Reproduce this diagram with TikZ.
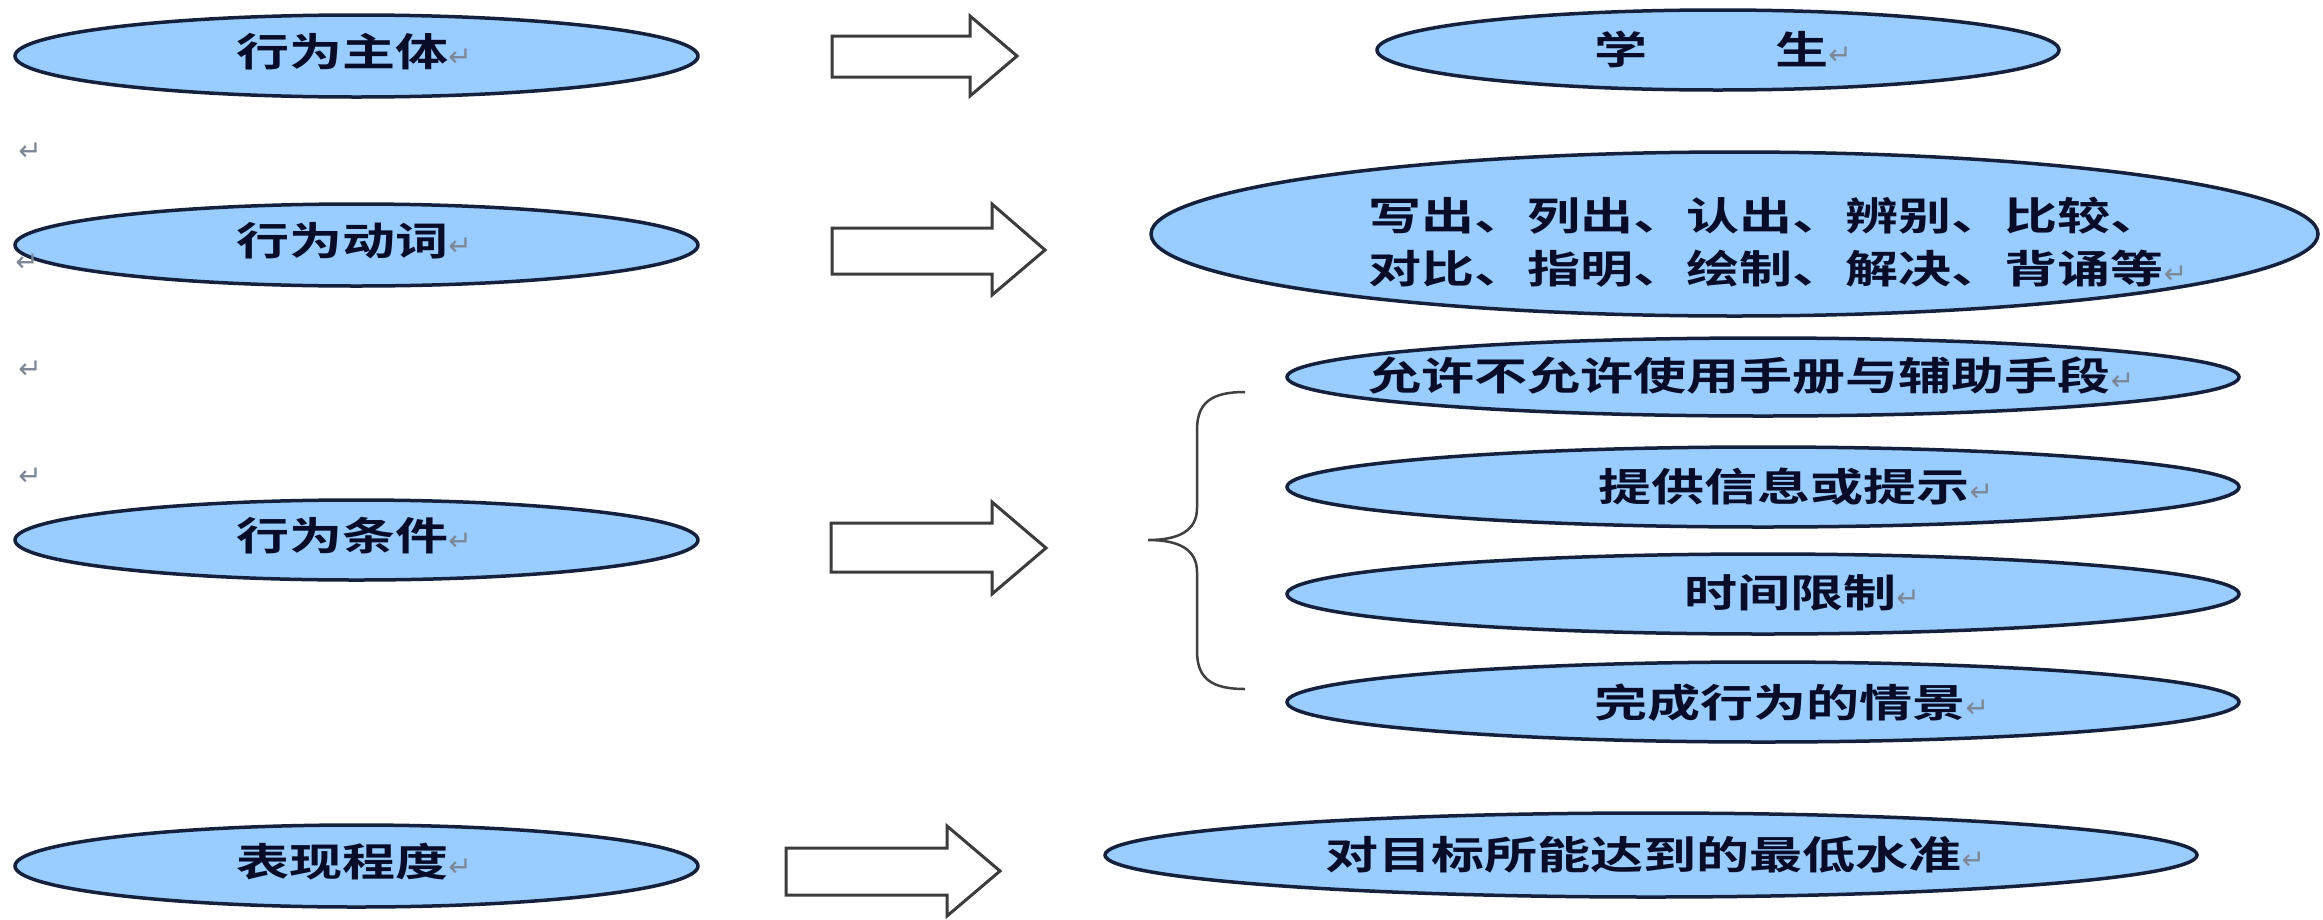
\documentclass[tikz,border=0pt]{standalone}
\usepackage{fontspec}
\usetikzlibrary{shapes.geometric}
\newfontfamily\cjk{Noto Sans CJK SC Bold}[FakeStretch=1.36]
\newfontfamily\markfont{DejaVu Sans}
\definecolor{ellfill}{RGB}{153,204,255}
\definecolor{ellline}{RGB}{20,32,60}
\definecolor{txtc}{RGB}{8,12,40}
\definecolor{markc}{RGB}{125,135,150}
\definecolor{arrline}{RGB}{60,60,60}
\newcommand\retmark{{\markfont\color{markc}\fontsize{28}{28}\selectfont ↵}}
\begin{document}
\begin{tikzpicture}[x=1pt,y=-1pt,
  oval/.style={ellipse, draw=ellline, line width=3.5pt, fill=ellfill, inner sep=0pt},
  cjktext/.style={anchor=west, inner sep=0pt, text=txtc, font=\cjk\fontsize{39}{53}\selectfont},
  blockarrow/.style={draw=arrline, line width=3pt, fill=white, line join=miter},
  bracestyle/.style={draw=black!75, line width=2.5pt},
  loosemark/.style={inner sep=0pt, font=\markfont\fontsize{28}{28}\selectfont, text=markc}]
\useasboundingbox (0,0) rectangle (2323,919);
\fill[white] (0,0) rectangle (2323,919);

% left column
\node[oval, minimum width=683pt, minimum height=82pt] (e1) at (356.5,56) {};
\node[oval, minimum width=683pt, minimum height=82pt] (e2) at (356.5,245) {};
\node[oval, minimum width=683pt, minimum height=80pt] (e3) at (356.5,540) {};
\node[oval, minimum width=683pt, minimum height=82pt] (e4) at (356.5,866) {};
\node[cjktext] (t1) at (236,52) {行为主体\retmark};
\node[cjktext] (t2) at (236,241) {行为动词\retmark};
\node[cjktext] (t3) at (236,536) {行为条件\retmark};
\node[cjktext] (t4) at (236,862) {表现程度\retmark};

% loose paragraph marks
\node[loosemark] (m1) at (30,152) {↵};
\node[loosemark] (m2) at (27,263) {↵};
\node[loosemark] (m3) at (30,370) {↵};
\node[loosemark] (m4) at (30,477) {↵};

% block arrows
\draw[blockarrow] (832,36) -- (970,36) -- (970,16) -- (1017,56) -- (970,96) -- (970,77) -- (832,77) -- cycle;
\draw[blockarrow] (832,228) -- (992,228) -- (992,204) -- (1045,250) -- (992,295) -- (992,274) -- (832,274) -- cycle;
\draw[blockarrow] (831,523) -- (992,523) -- (992,502) -- (1046,548) -- (992,594) -- (992,572) -- (831,572) -- cycle;
\draw[blockarrow] (786,848) -- (947,848) -- (947,826) -- (1000,871) -- (947,916) -- (947,895) -- (786,895) -- cycle;

% right column
\node[oval, minimum width=682pt, minimum height=80pt] (r1) at (1718,50) {};
\node[cjktext] (s1) at (1594,49) {学\hspace{128pt}生\retmark};

\node[oval, minimum width=1167pt, minimum height=164pt] (r2) at (1734.5,234) {};
\node[cjktext, align=left] (s2) at (1368,242.5) {写出、列出、认出、辨别、比较、\\对比、指明、绘制、解决、背诵等\retmark};

\node[oval, minimum width=952pt, minimum height=78pt] (c1) at (1763,377) {};
\node[oval, minimum width=952pt, minimum height=80pt] (c2) at (1763,487) {};
\node[oval, minimum width=952pt, minimum height=80pt] (c3) at (1763,594) {};
\node[oval, minimum width=952pt, minimum height=80pt] (c4) at (1763,702) {};
\node[cjktext] (u1) at (1368,376) {允许不允许使用手册与辅助手段\retmark};
\node[cjktext] (u2) at (1598,487) {提供信息或提示\retmark};
\node[cjktext] (u3) at (1684,593) {时间限制\retmark};
\node[cjktext] (u4) at (1594,703) {完成行为的情景\retmark};

\node[oval, minimum width=1092pt, minimum height=84pt] (r4) at (1651,855) {};
\node[cjktext] (s4) at (1325,855) {对目标所能达到的最低水准\retmark};

% brace
\coordinate (btop) at (1245,392);
\coordinate (btip) at (1148,540);
\coordinate (bbot) at (1245,689);
\draw[bracestyle] (btop) .. controls (1212,392) and (1197,402) .. (1197,430)
  -- (1197,508) .. controls (1197,530) and (1180,540) .. (btip)
  .. controls (1180,540) and (1197,550) .. (1197,572)
  -- (1197,651) .. controls (1197,679) and (1212,689) .. (bbot);
\end{tikzpicture}
\end{document}
